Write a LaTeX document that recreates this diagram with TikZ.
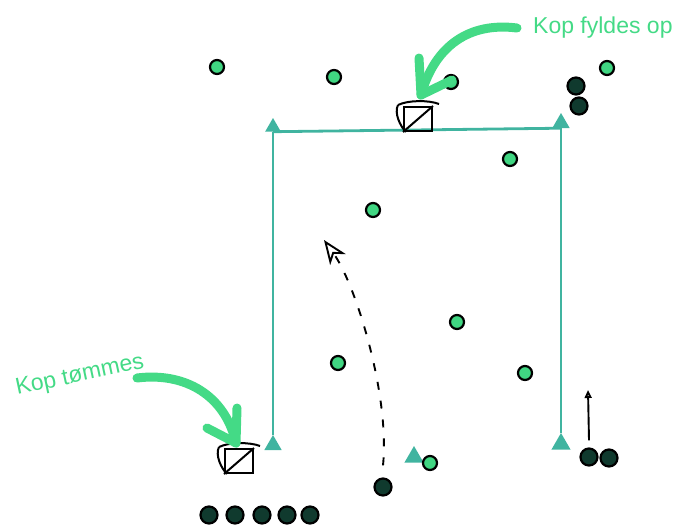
\documentclass[tikz,border=0pt]{standalone}
\usepackage{fontspec}
\setmainfont{Liberation Sans}
\usetikzlibrary{arrows.meta,shapes.geometric}
\definecolor{conecol}{RGB}{64,180,160}
\definecolor{dotgreen}{RGB}{64,214,130}
\definecolor{dotdark}{RGB}{16,58,46}
\definecolor{arrowgreen}{RGB}{68,218,134}

\tikzset{
  greendot/.style={draw=black,line width=2.2pt,fill=dotgreen,circle,inner sep=0pt,minimum size=14pt},
  darkdot/.style={draw=black,line width=2.2pt,fill=dotdark,circle,inner sep=0pt,minimum size=17pt},
  cone/.style={fill=conecol,regular polygon,regular polygon sides=3,inner sep=0pt,minimum size=#1},
  cone/.default=20pt,
  fieldline/.style={draw=conecol,line width=2.8pt},
  cup/.style={draw=black,line width=2pt,rectangle,inner sep=0pt,minimum width=28pt,minimum height=24pt},
  hint/.style={arrowgreen,line width=9pt,line cap=round,line join=round},
  hinttext/.style={text=arrowgreen,font=\fontsize{23}{26}\selectfont,inner sep=0pt}
}

\begin{document}
\begin{tikzpicture}[x=1pt,y=-1pt]
  \useasboundingbox (0,0) rectangle (684,525);

  %cones and field
  \node[cone=18pt] (tl) at (273,127) {};
  \node[cone] (tr) at (561,123) {};
  \node[cone] (bl) at (273,445) {};
  \node[cone=22pt] (br) at (561,444) {};
  \node[cone=22pt] (mid) at (414,457) {};
  \draw[fieldline] (tl.south) -- (tr.south);
  \draw[fieldline] (tl.south) -- (bl.north);
  \draw[fieldline] (tr.south) -- (br.north);

  %green players
  \node[greendot] (g1) at (217,67) {};
  \node[greendot] (g2) at (334,77) {};
  \node[greendot] (g3) at (451,82) {};
  \node[greendot] (g4) at (607,68) {};
  \node[greendot] (g5) at (510,159) {};
  \node[greendot] (g6) at (373,210) {};
  \node[greendot] (g7) at (457,322) {};
  \node[greendot] (g8) at (338,363) {};
  \node[greendot] (g9) at (525,373) {};
  \node[greendot] (g10) at (430,463) {};

  %dark players
  \node[darkdot] (d1) at (576,86) {};
  \node[darkdot] (d2) at (579,106) {};
  \node[darkdot] (run) at (383,487) {};
  \node[darkdot] (r1) at (589,457) {};
  \node[darkdot] (r2) at (609,458) {};
  \foreach \i/\x in {1/209,2/235,3/262,4/287,5/310}
    \node[darkdot] (q\i) at (\x,515) {};

  %cups
  \node[cup] (cupA) at (418,119) {};
  \draw[line width=2pt] (cupA.south west) -- (cupA.north east);
  \draw[line width=2pt] ([xshift=-5pt,yshift=1pt]cupA.north west) .. controls +(10,-5) and +(-10,-4) .. ([xshift=6pt,yshift=2pt]cupA.north east);
  \draw[line width=2pt] ([xshift=-5pt,yshift=1pt]cupA.north west) .. controls +(-4,8) and +(-6,-6) .. ([xshift=3pt]cupA.south west);

  \node[cup] (cupB) at (239,461) {};
  \draw[line width=2pt] (cupB.south west) -- (cupB.north east);
  \draw[line width=2pt] ([xshift=-5pt,yshift=1pt]cupB.north west) .. controls +(10,-5) and +(-10,-4) .. ([xshift=6pt,yshift=2pt]cupB.north east);
  \draw[line width=2pt] ([xshift=-5pt,yshift=1pt]cupB.north west) .. controls +(-4,8) and +(-6,-6) .. ([xshift=3pt]cupB.south west);

  %hints
  \node[hinttext,anchor=west] (fill) at (533,28) {Kop fyldes op};
  \node[hinttext,rotate=12] (empty) at (80,376) {Kop tømmes};
  \coordinate (tipA) at (421,95);
  \coordinate (tipB) at (236,443);
  \draw[hint] ([xshift=-16pt]fill.west) .. controls +(-47,-6) and +(14,-50) .. (tipA);
  \draw[hint] (419,58) -- (tipA) -- (452,80);
  \draw[hint] (137,378) .. controls +(48,-6) and +(-11,-48) .. (tipB);
  \draw[hint] (237,408) -- (tipB) -- (207,428);

  %runs
  \coordinate (aim) at (324,240);
  \draw[line width=1.9pt,dash pattern=on 8pt off 11pt,-{Stealth[open,length=24pt,width=19pt,inset=7pt]}]
    ([yshift=12pt]run.north) .. controls +(7,-70) and +(32,45) .. (aim);
  \coordinate (top) at (588,390);
  \draw[line width=1.9pt,-{Triangle[open,length=8pt,width=7pt]}] ([yshift=7pt]r1.north) -- (top);
\end{tikzpicture}
\end{document}
